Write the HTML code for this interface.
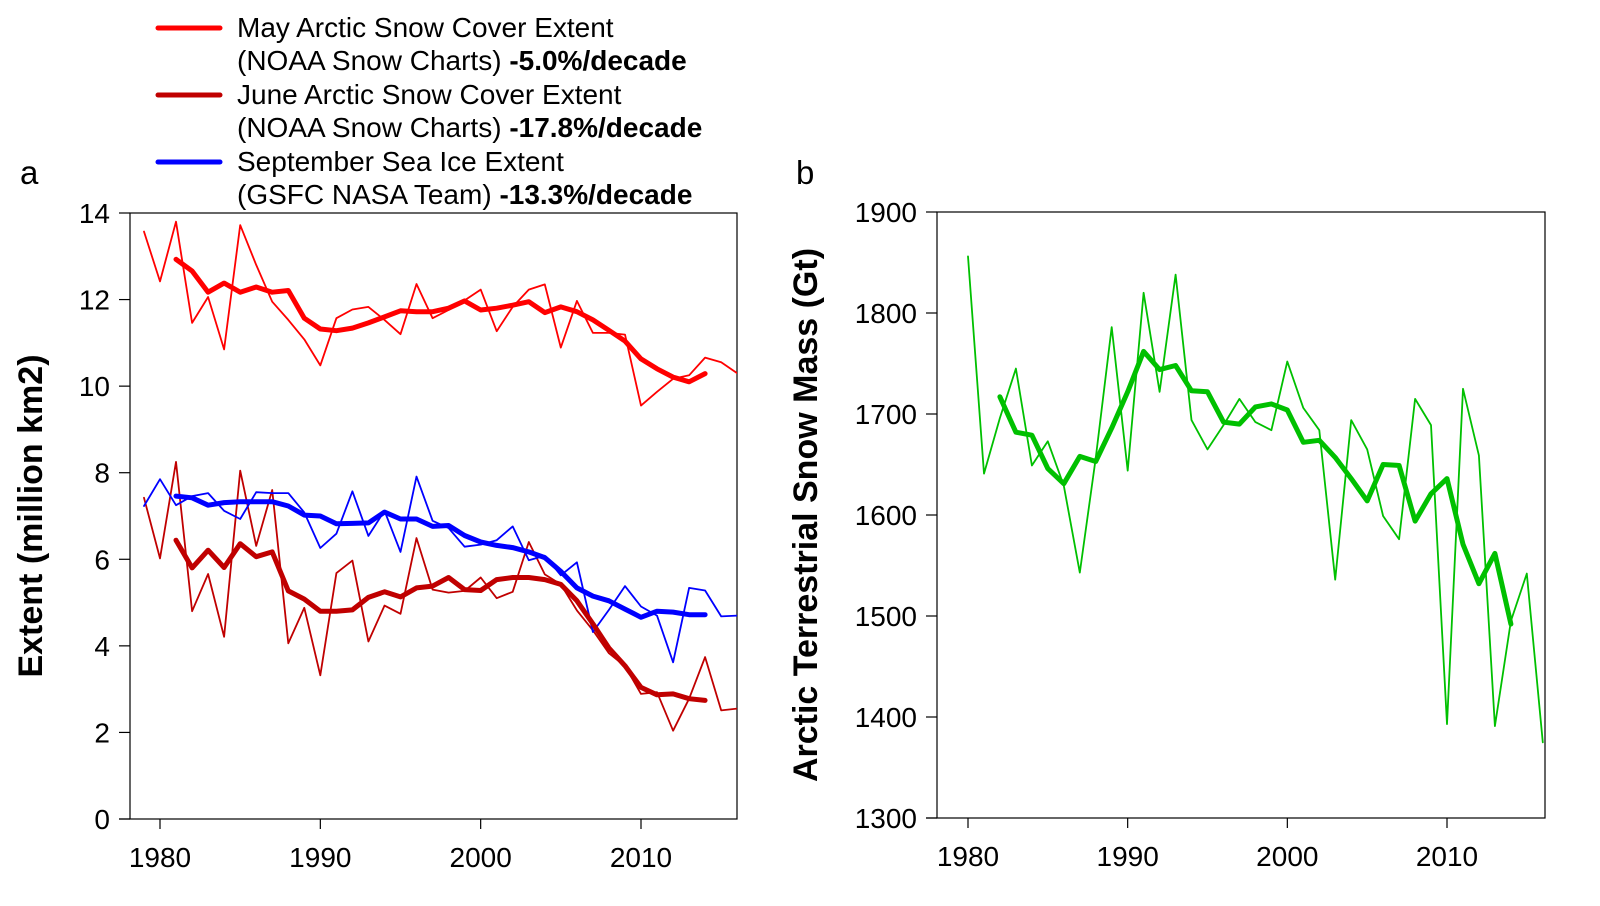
<!DOCTYPE html>
<html><head><meta charset="utf-8">
<style>
html,body{margin:0;padding:0;background:#fff;}
svg{display:block;font-family:"Liberation Sans",Arial,sans-serif;}
</style></head>
<body>
<svg id="chart" width="1600" height="906" viewBox="0 0 1600 906">
  <g id="legend">
    <g>
      <line x1="158" y1="28" x2="220" y2="28" stroke="#ff0000" stroke-width="5" stroke-linecap="round"/>
      <text x="237" y="37" font-size="28">May Arctic Snow Cover Extent</text>
      <text x="237" y="70" font-size="28">(NOAA Snow Charts) <tspan font-weight="bold">-5.0%/decade</tspan></text>
    </g>
    <g>
      <line x1="158" y1="95" x2="220" y2="95" stroke="#c00000" stroke-width="5" stroke-linecap="round"/>
      <text x="237" y="104" font-size="28">June Arctic Snow Cover Extent</text>
      <text x="237" y="137" font-size="28">(NOAA Snow Charts) <tspan font-weight="bold">-17.8%/decade</tspan></text>
    </g>
    <g>
      <line x1="158" y1="162" x2="220" y2="162" stroke="#0000ff" stroke-width="5" stroke-linecap="round"/>
      <text x="237" y="171" font-size="28">September Sea Ice Extent</text>
      <text x="237" y="204" font-size="28">(GSFC NASA Team) <tspan font-weight="bold">-13.3%/decade</tspan></text>
    </g>
  </g>
  <text x="20" y="184" font-size="33">a</text>
  <text x="796" y="184" font-size="33">b</text>
  <g id="panelA"></g>
  <g id="panelB"></g>
</svg>
<script>
const yearsA = [1979,1980,1981,1982,1983,1984,1985,1986,1987,1988,1989,1990,1991,1992,1993,1994,1995,1996,1997,1998,1999,2000,2001,2002,2003,2004,2005,2006,2007,2008,2009,2010,2011,2012,2013,2014,2015,2016];
const mayThin = [13.57,12.42,13.8,11.46,12.06,10.85,13.72,12.8,11.95,11.53,11.08,10.48,11.57,11.77,11.83,11.53,11.2,12.36,11.57,11.76,11.98,12.23,11.27,11.83,12.23,12.35,10.89,11.97,11.23,11.23,11.19,9.55,9.87,10.17,10.25,10.66,10.55,10.3];
const juneThin = [7.42,6.02,8.25,4.8,5.66,4.21,8.05,6.31,7.6,4.06,4.88,3.32,5.68,5.97,4.1,4.93,4.74,6.49,5.3,5.23,5.27,5.58,5.1,5.25,6.4,5.65,5.42,4.82,4.36,3.83,3.53,2.89,2.93,2.04,2.78,3.74,2.51,2.55];
const septThin = [7.23,7.85,7.25,7.46,7.53,7.12,6.93,7.55,7.53,7.53,7.08,6.26,6.59,7.57,6.54,7.12,6.17,7.91,6.89,6.72,6.29,6.34,6.44,6.76,5.98,6.08,5.63,5.93,4.32,4.83,5.38,4.91,4.7,3.62,5.34,5.28,4.68,4.7];
const yearsSmoothA = [1981,1982,1983,1984,1985,1986,1987,1988,1989,1990,1991,1992,1993,1994,1995,1996,1997,1998,1999,2000,2001,2002,2003,2004,2005,2006,2007,2008,2009,2010,2011,2012,2013,2014];
const maySmooth = [12.93,12.66,12.17,12.38,12.17,12.29,12.17,12.21,11.57,11.32,11.28,11.34,11.46,11.6,11.74,11.72,11.72,11.8,11.97,11.76,11.8,11.87,11.95,11.7,11.83,11.72,11.53,11.29,11.04,10.63,10.4,10.21,10.1,10.29];
const juneSmooth = [6.44,5.8,6.21,5.81,6.36,6.06,6.17,5.27,5.08,4.8,4.8,4.83,5.12,5.25,5.13,5.34,5.38,5.58,5.3,5.28,5.53,5.58,5.58,5.53,5.42,5.04,4.51,3.95,3.54,3.04,2.87,2.89,2.78,2.74];
const septSmooth = [7.46,7.42,7.25,7.31,7.33,7.33,7.33,7.23,7.02,7.0,6.82,6.83,6.84,7.09,6.93,6.93,6.76,6.78,6.55,6.4,6.32,6.27,6.17,6.04,5.72,5.34,5.15,5.04,4.85,4.66,4.8,4.78,4.72,4.72];
const ticksYA = [0,2,4,6,8,10,12,14];
const ticksX = [1980,1990,2000,2010];

const yearsB = [1980,1981,1982,1983,1984,1985,1986,1987,1988,1989,1990,1991,1992,1993,1994,1995,1996,1997,1998,1999,2000,2001,2002,2003,2004,2005,2006,2007,2008,2009,2010,2011,2012,2013,2014,2015,2016];
const massThin = [1856,1641,1696,1745,1649,1673,1629,1543,1656,1786,1644,1820,1722,1838,1694,1665,1689,1715,1692,1684,1752,1706,1684,1536,1694,1665,1599,1576,1715,1689,1393,1725,1659,1391,1495,1542,1375];
const yearsSmoothB = [1982,1983,1984,1985,1986,1987,1988,1989,1990,1991,1992,1993,1994,1995,1996,1997,1998,1999,2000,2001,2002,2003,2004,2005,2006,2007,2008,2009,2010,2011,2012,2013,2014];
const massSmooth = [1717,1682,1679,1646,1631,1658,1653,1686,1722,1762,1744,1748,1723,1722,1692,1690,1707,1710,1704,1672,1674,1657,1636,1614,1650,1649,1594,1621,1636,1571,1532,1562,1492];
const ticksYB = [1300,1400,1500,1600,1700,1800,1900];

const NS = 'http://www.w3.org/2000/svg';
function mk(parent, tag, attrs){
  const e = document.createElementNS(NS, tag);
  for (const k in attrs) e.setAttribute(k, attrs[k]);
  parent.appendChild(e);
  return e;
}

const A = {l:130, r:737, t:213, b:819};
const xA = y => 160 + (y-1980)*(641-160)/30;
const yA = v => A.b - v*(A.b-A.t)/14;
const B = {l:937, r:1545, t:212, b:818};
const xB = y => 968 + (y-1980)*(1447-968)/30;
const yB = v => B.b - (v-1300)*(B.b-B.t)/600;

function drawSeries(g, xs, vs, xf, yf, color, w, name, clipId){
  const pts = xs.map((x,i)=>xf(x).toFixed(1)+','+yf(vs[i]).toFixed(1)).join(' ');
  const pl = mk(g,'polyline',{points:pts, fill:'none', stroke:color, 'stroke-width':w, 'stroke-linejoin':'round', 'stroke-linecap':'round', 'clip-path':'url(#'+clipId+')'});
  
  
}

function drawAxes(g, box, xf, yf, yticks, yTitle, titleX, clipId){
  const defs = mk(g,'defs',{});
  const cp = mk(defs,'clipPath',{id:clipId});
  mk(cp,'rect',{x:box.l, y:box.t-5, width:box.r-box.l, height:box.b-box.t+5});
  const frame = mk(g,'rect',{x:box.l, y:box.t, width:box.r-box.l, height:box.b-box.t, fill:'none', stroke:'#000', 'stroke-width':1.2});
  
  
  mk(g,'line',{x1:box.l-11, y1:box.b, x2:box.l, y2:box.b, stroke:'#000','stroke-width':1.2});
  yticks.forEach(v=>{
    const y = yf(v);
    mk(g,'line',{x1:box.l-11, y1:y, x2:box.l, y2:y, stroke:'#000','stroke-width':1.2});
    const t = mk(g,'text',{x:box.l-20, y:y+10, 'font-size':28, 'text-anchor':'end'});
    t.textContent = v;
    
    
  });
  ticksX.forEach(v=>{
    const x = xf(v);
    mk(g,'line',{x1:x, y1:box.b, x2:x, y2:box.b+10, stroke:'#000','stroke-width':1.2});
    const t = mk(g,'text',{x:x, y:box.b+48, 'font-size':28, 'text-anchor':'middle'});
    t.textContent = v;
    
    
  });
  const cy = (box.t+box.b)/2;
  const tt = mk(g,'text',{x:titleX, y:cy, 'font-size':34, 'font-weight':'bold', 'text-anchor':'middle', transform:'rotate(-90 '+titleX+' '+cy+')'});
  tt.textContent = yTitle;
  
  
}

const gA = document.getElementById('panelA');
drawAxes(gA, A, xA, yA, ticksYA, 'Extent (million km2)', 42, 'clipA');
drawSeries(gA, yearsA, mayThin, xA, yA, '#ff0000', 1.8, 'may-annual-line', 'clipA');
drawSeries(gA, yearsA, juneThin, xA, yA, '#c00000', 1.8, 'june-annual-line', 'clipA');
drawSeries(gA, yearsA, septThin, xA, yA, '#0000ff', 1.8, 'september-annual-line', 'clipA');
drawSeries(gA, yearsSmoothA, maySmooth, xA, yA, '#ff0000', 5, 'may-smoothed-line', 'clipA');
drawSeries(gA, yearsSmoothA, juneSmooth, xA, yA, '#c00000', 5, 'june-smoothed-line', 'clipA');
drawSeries(gA, yearsSmoothA, septSmooth, xA, yA, '#0000ff', 5, 'september-smoothed-line', 'clipA');

const gB = document.getElementById('panelB');
drawAxes(gB, B, xB, yB, ticksYB, 'Arctic Terrestrial Snow Mass (Gt)', 817, 'clipB');
drawSeries(gB, yearsB, massThin, xB, yB, '#00c000', 1.8, 'snow-mass-annual-line', 'clipB');
drawSeries(gB, yearsSmoothB, massSmooth, xB, yB, '#00c000', 5, 'snow-mass-smoothed-line', 'clipB');
</script>
</body></html>
